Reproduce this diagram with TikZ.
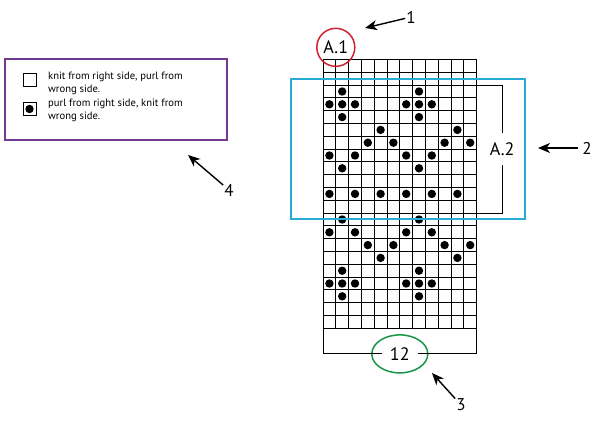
\documentclass[tikz,border=0pt]{standalone}
\usepackage{fontspec}
\setmainfont{PT Sans}
\usetikzlibrary{arrows.meta,shapes.geometric}

\definecolor{chartblue}{RGB}{38,172,212}
\definecolor{chartred}{RGB}{208,34,48}
\definecolor{chartgreen}{RGB}{24,150,72}
\definecolor{legendpurple}{RGB}{112,58,146}

\tikzset{
  callout/.style={-{Stealth[length=12pt,width=10pt,inset=3.5pt]}, line width=1.4pt},
  numlabel/.style={font=\fontsize{17}{20}\selectfont, inner sep=1pt},
  chartlabel/.style={font=\fontsize{18}{21}\selectfont, inner sep=1pt},
  stitchbox/.style={draw, line width=1pt, minimum size=13pt, inner sep=0pt},
  legendtext/.style={font=\fontsize{10.6}{13.6}\selectfont, align=left, anchor=west, inner sep=0pt},
  gridline/.style={line width=1pt},
}

\begin{document}
\begin{tikzpicture}[x=1pt,y=-1pt]
    \useasboundingbox (0,0) rectangle (600,421);

    % Legend
    \draw[legendpurple, line width=2pt] (5,59) rectangle (227,140);
    \node[stitchbox] (knit) at (29.5,80) {};
    \node[stitchbox] (purl) at (29.5,109) {};
    \fill (purl) circle (4.2);
    \node[legendtext] (knittext) at (48,83.5) {knit from right side, purl from\\wrong side.};
    \node[legendtext] (purltext) at (48,110.5) {purl from right side, knit from\\wrong side.};

    % Chart, one unit = one stitch
    \begin{scope}[shift={(323,59.5)}, x=12.8pt, y=-12.8pt]
        \foreach \i in {0,...,12} \draw[gridline] (\i,0) -- (\i,21);
        \foreach \j in {0,...,21} \draw[gridline] (0,\j) -- (12,\j);

        % purl stitches
        \foreach \r/\cols in {3/{2,8}, 4/{1,2,3,7,8,9}, 5/{2,8}, 6/{5,11},
                              7/{4,6,10,12}, 8/{1,3,7,9}, 9/{2,8}, 11/{1,3,5,7,9,11},
                              13/{2,8}, 14/{1,3,7,9}, 15/{4,6,10,12}, 16/{5,11},
                              17/{2,8}, 18/{1,2,3,7,8,9}, 19/{2,8}} {
            \foreach \c in \cols \fill (\c-0.5,\r-0.5) circle (4.2pt);
        }

        % stitch count below the chart
        \node[chartlabel, inner xsep=8pt] (w12) at (6,23) {12};
        \node[draw=chartgreen, ellipse, line width=1.5pt, minimum width=56pt, minimum height=38pt] (e12) at (w12) {};
        \coordinate (bl) at (0,23);
        \coordinate (br) at (12,23);
        \draw[gridline] (0,21) -- (bl) -- (w12.west);
        \draw[gridline] (12,21) -- (br) -- (w12.east);

        % A.1
        \node[chartlabel, draw=chartred, circle, line width=1.5pt, minimum size=38pt] (a1) at (1,-0.95) {A.1};

        % A.2 bracket
        \node[chartlabel, inner ysep=9pt] (a2) at (14,7) {A.2};
        \coordinate (a2top) at (14,2);
        \coordinate (a2bot) at (14,12);
        \draw[line width=1.2pt] (12,2) -- (a2top) -- (a2.north);
        \draw[line width=1.2pt] (12,12) -- (a2bot) -- (a2.south);
    \end{scope}

    % A.2 frame
    \draw[chartblue, line width=2pt] (291,79) rectangle (525,219);

    % Callouts
    \node[numlabel] (n1) at (411,17) {1};
    \coordinate (t1) at (365,28);
    \draw[callout] (n1) -- (t1);

    \node[numlabel] (n2) at (587,148) {2};
    \coordinate (t2) at (538,148);
    \draw[callout, shorten <=3pt] (n2) -- (t2);

    \node[numlabel] (n3) at (461,405) {3};
    \coordinate (t3) at (432,373);
    \draw[callout] (n3) -- (t3);

    \node[numlabel] (n4) at (229,190) {4};
    \coordinate (t4) at (188,155);
    \draw[callout] (n4) -- (t4);
\end{tikzpicture}
\end{document}
